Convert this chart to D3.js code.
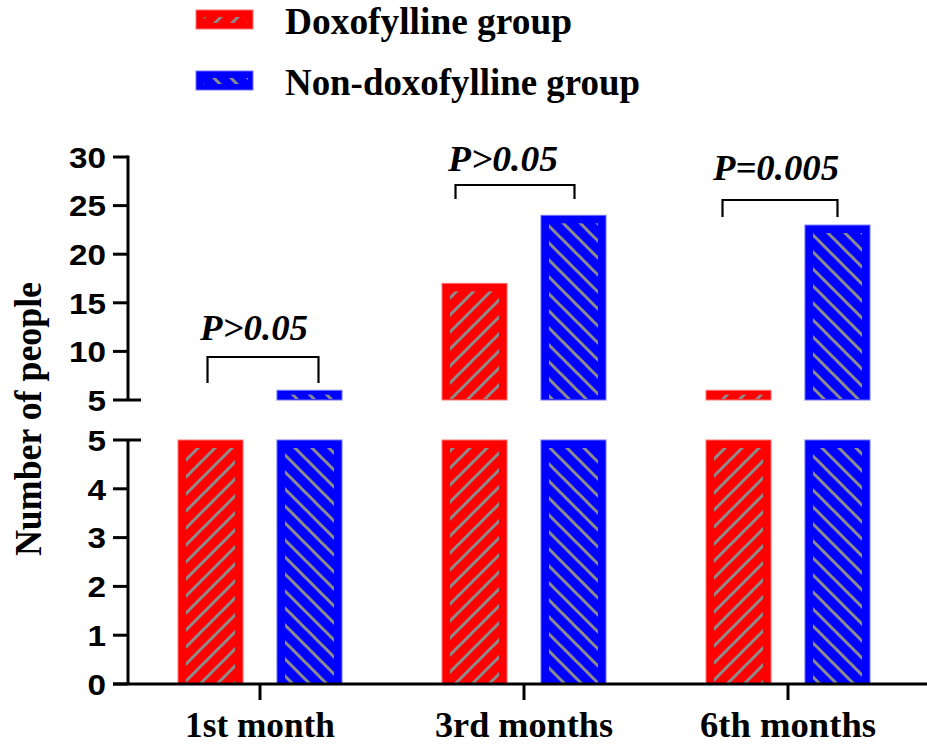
<!DOCTYPE html>
<html><head><meta charset="utf-8">
<script src="https://cdn.jsdelivr.net/npm/d3@7"></script>
<style>body{margin:0;background:#fff}svg{display:block}</style>
</head><body>
<script>
const categories = ["1st month", "3rd months", "6th months"];
const groups = ["Doxofylline group", "Non-doxofylline group"];
const doxofylline = [5, 17, 6];
const nonDoxofylline = [6, 24, 23];
const pLabels = ["P>0.05", "P>0.05", "P=0.005"];
const upperTicks = [5, 10, 15, 20, 25, 30];
const lowerTicks = [0, 1, 2, 3, 4, 5];
const colors = ["#ff0000", "#0000ff"];
const edgeColors = ["#ff7070", "#7070ff"];

const W = 927, H = 744;
const svg = d3.select("body").append("svg").attr("width", W).attr("height", H);
const defs = svg.append("defs");
function hatch(id, dir) {
  const s = 17;
  const p = defs.append("pattern").attr("id", id).attr("patternUnits", "userSpaceOnUse")
    .attr("width", s).attr("height", s);
  const d = dir > 0
    ? `M0,${s} L${s},0 M-3,3 L3,-3 M${s-3},${s+3} L${s+3},${s-3}`
    : `M0,0 L${s},${s} M-3,${s-3} L3,${s+3} M${s-3},-3 L${s+3},3`;
  p.append("path").attr("d", d).attr("stroke", "#8c8c8c").attr("stroke-width", 3);
}
hatch("hr", 1); hatch("hb", -1);
const hatchIds = ["hr", "hb"];

const axisX0 = 128, axisX1 = 920;
const x0 = d3.scaleBand().domain(categories).range([axisX0, axisX1]);
const x1 = d3.scaleBand().domain(groups).range([50, 214]).paddingInner(0.343);
const yU = d3.scaleLinear().domain([5, 30]).range([400, 157]);
const yL = d3.scaleLinear().domain([0, 5]).range([684, 440]);

const data = [];
categories.forEach((c, i) => {
  [doxofylline[i], nonDoxofylline[i]].forEach((v, g) => data.push({c, g, v}));
});

function drawBar(x, w, yTop, yBot, g) {
  if (yBot - yTop <= 0) return;
  svg.append("rect").attr("x", x).attr("y", yTop).attr("width", w).attr("height", yBot - yTop)
    .attr("fill", colors[g]).attr("stroke", edgeColors[g]).attr("stroke-width", 1);
  const inset = 8;
  const hy = yTop + Math.min(inset, (yBot - yTop) * 0.45);
  svg.append("rect").attr("x", x + inset).attr("y", hy).attr("width", w - 2 * inset)
    .attr("height", Math.max(0, yBot - hy - 1)).attr("fill", `url(#${hatchIds[g]})`);
}
data.forEach(d => {
  const x = x0(d.c) + x1(groups[d.g]);
  const w = x1.bandwidth();
  drawBar(x, w, yL(Math.min(d.v, 5)), yL(0), d.g);
  if (d.v > 5) drawBar(x, w, yU(d.v), yU(5), d.g);
});

// axes
const ax = svg.append("g").attr("stroke", "#000").attr("stroke-width", 3).attr("fill", "none");
ax.append("line").attr("x1", axisX0).attr("x2", axisX0).attr("y1", yU(30) - 1.5).attr("y2", yU(5));
ax.append("line").attr("x1", axisX0).attr("x2", axisX0).attr("y1", yL(5)).attr("y2", yL(0));
ax.append("line").attr("x1", 113).attr("x2", W).attr("y1", yL(0)).attr("y2", yL(0));
upperTicks.forEach(t => {
  ax.append("line").attr("x1", 113).attr("x2", t === 5 ? 141 : axisX0).attr("y1", yU(t)).attr("y2", yU(t));
});
lowerTicks.forEach(t => {
  ax.append("line").attr("x1", 113).attr("x2", t === 5 ? 141 : axisX0).attr("y1", yL(t)).attr("y2", yL(t));
});
categories.forEach(c => {
  const cx = x0(c) + x0.bandwidth() / 2;
  ax.append("line").attr("x1", cx).attr("x2", cx).attr("y1", yL(0)).attr("y2", yL(0) + 16);
});

const tickFont = "'Liberation Sans', Arial, sans-serif";
function tickLabel(y, t) {
  const s = String(t);
  svg.append("text").attr("x", 106).attr("y", y).attr("dy", "0.36em")
    .attr("text-anchor", "end").attr("font-family", tickFont).attr("font-weight", "bold")
    .attr("font-size", 30).attr("textLength", s.length * 18.5).attr("lengthAdjust", "spacingAndGlyphs")
    .text(s);
}
upperTicks.forEach(t => tickLabel(yU(t), t));
lowerTicks.forEach(t => tickLabel(yL(t), t));

const serif = "'Liberation Serif', 'Times New Roman', serif";
const catWidths = [150, 178, 176];
categories.forEach((c, i) => {
  svg.append("text").attr("x", x0(c) + x0.bandwidth() / 2).attr("y", 737)
    .attr("text-anchor", "middle").attr("font-family", serif).attr("font-weight", "bold")
    .attr("font-size", 35).attr("textLength", catWidths[i]).attr("lengthAdjust", "spacingAndGlyphs")
    .text(c);
});

svg.append("text").attr("transform", "translate(41,419) rotate(-90)")
  .attr("text-anchor", "middle").attr("font-family", serif).attr("font-weight", "bold")
  .attr("font-size", 37).attr("textLength", 274).attr("lengthAdjust", "spacingAndGlyphs")
  .text("Number of people");

// significance brackets (layout relative to bar centres)
const bracketLeft = [-3, -19, -16];
const bracketRight = [9, 1, 0];
const bracketTop = [357, 185, 200];
const bracketBot = [383, 199, 217];
const pWidths = [108, 110, 126];
const pShift = [-9, -12, -4];
const pRise = [17, 14, 20];
categories.forEach((c, i) => {
  const xa = x0(c) + x1(groups[0]) + x1.bandwidth() / 2 + bracketLeft[i];
  const xb = x0(c) + x1(groups[1]) + x1.bandwidth() / 2 + bracketRight[i];
  svg.append("path").attr("d", `M${xa},${bracketBot[i]} V${bracketTop[i]} H${xb} V${bracketBot[i]}`)
    .attr("fill", "none").attr("stroke", "#000").attr("stroke-width", 2.2);
  svg.append("text").attr("x", (xa + xb) / 2 + pShift[i]).attr("y", bracketTop[i] - pRise[i])
    .attr("text-anchor", "middle").attr("font-family", serif).attr("font-weight", "bold")
    .attr("font-style", "italic").attr("font-size", 35)
    .attr("textLength", pWidths[i]).attr("lengthAdjust", "spacingAndGlyphs")
    .text(pLabels[i]);
});

// legend
const legY = [10, 71];
const legW = [287, 355];
groups.forEach((g, i) => {
  svg.append("rect").attr("x", 196).attr("y", legY[i]).attr("width", 57).attr("height", 19)
    .attr("fill", colors[i]).attr("stroke", edgeColors[i]).attr("stroke-width", 1);
  svg.append("rect").attr("x", 204).attr("y", legY[i] + 7).attr("width", 44).attr("height", 6)
    .attr("fill", `url(#${hatchIds[i]})`);
  svg.append("text").attr("x", 285).attr("y", legY[i] + 24).attr("font-family", serif)
    .attr("font-weight", "bold").attr("font-size", 37)
    .attr("textLength", legW[i]).attr("lengthAdjust", "spacingAndGlyphs").text(g);
});
</script>
</body></html>
